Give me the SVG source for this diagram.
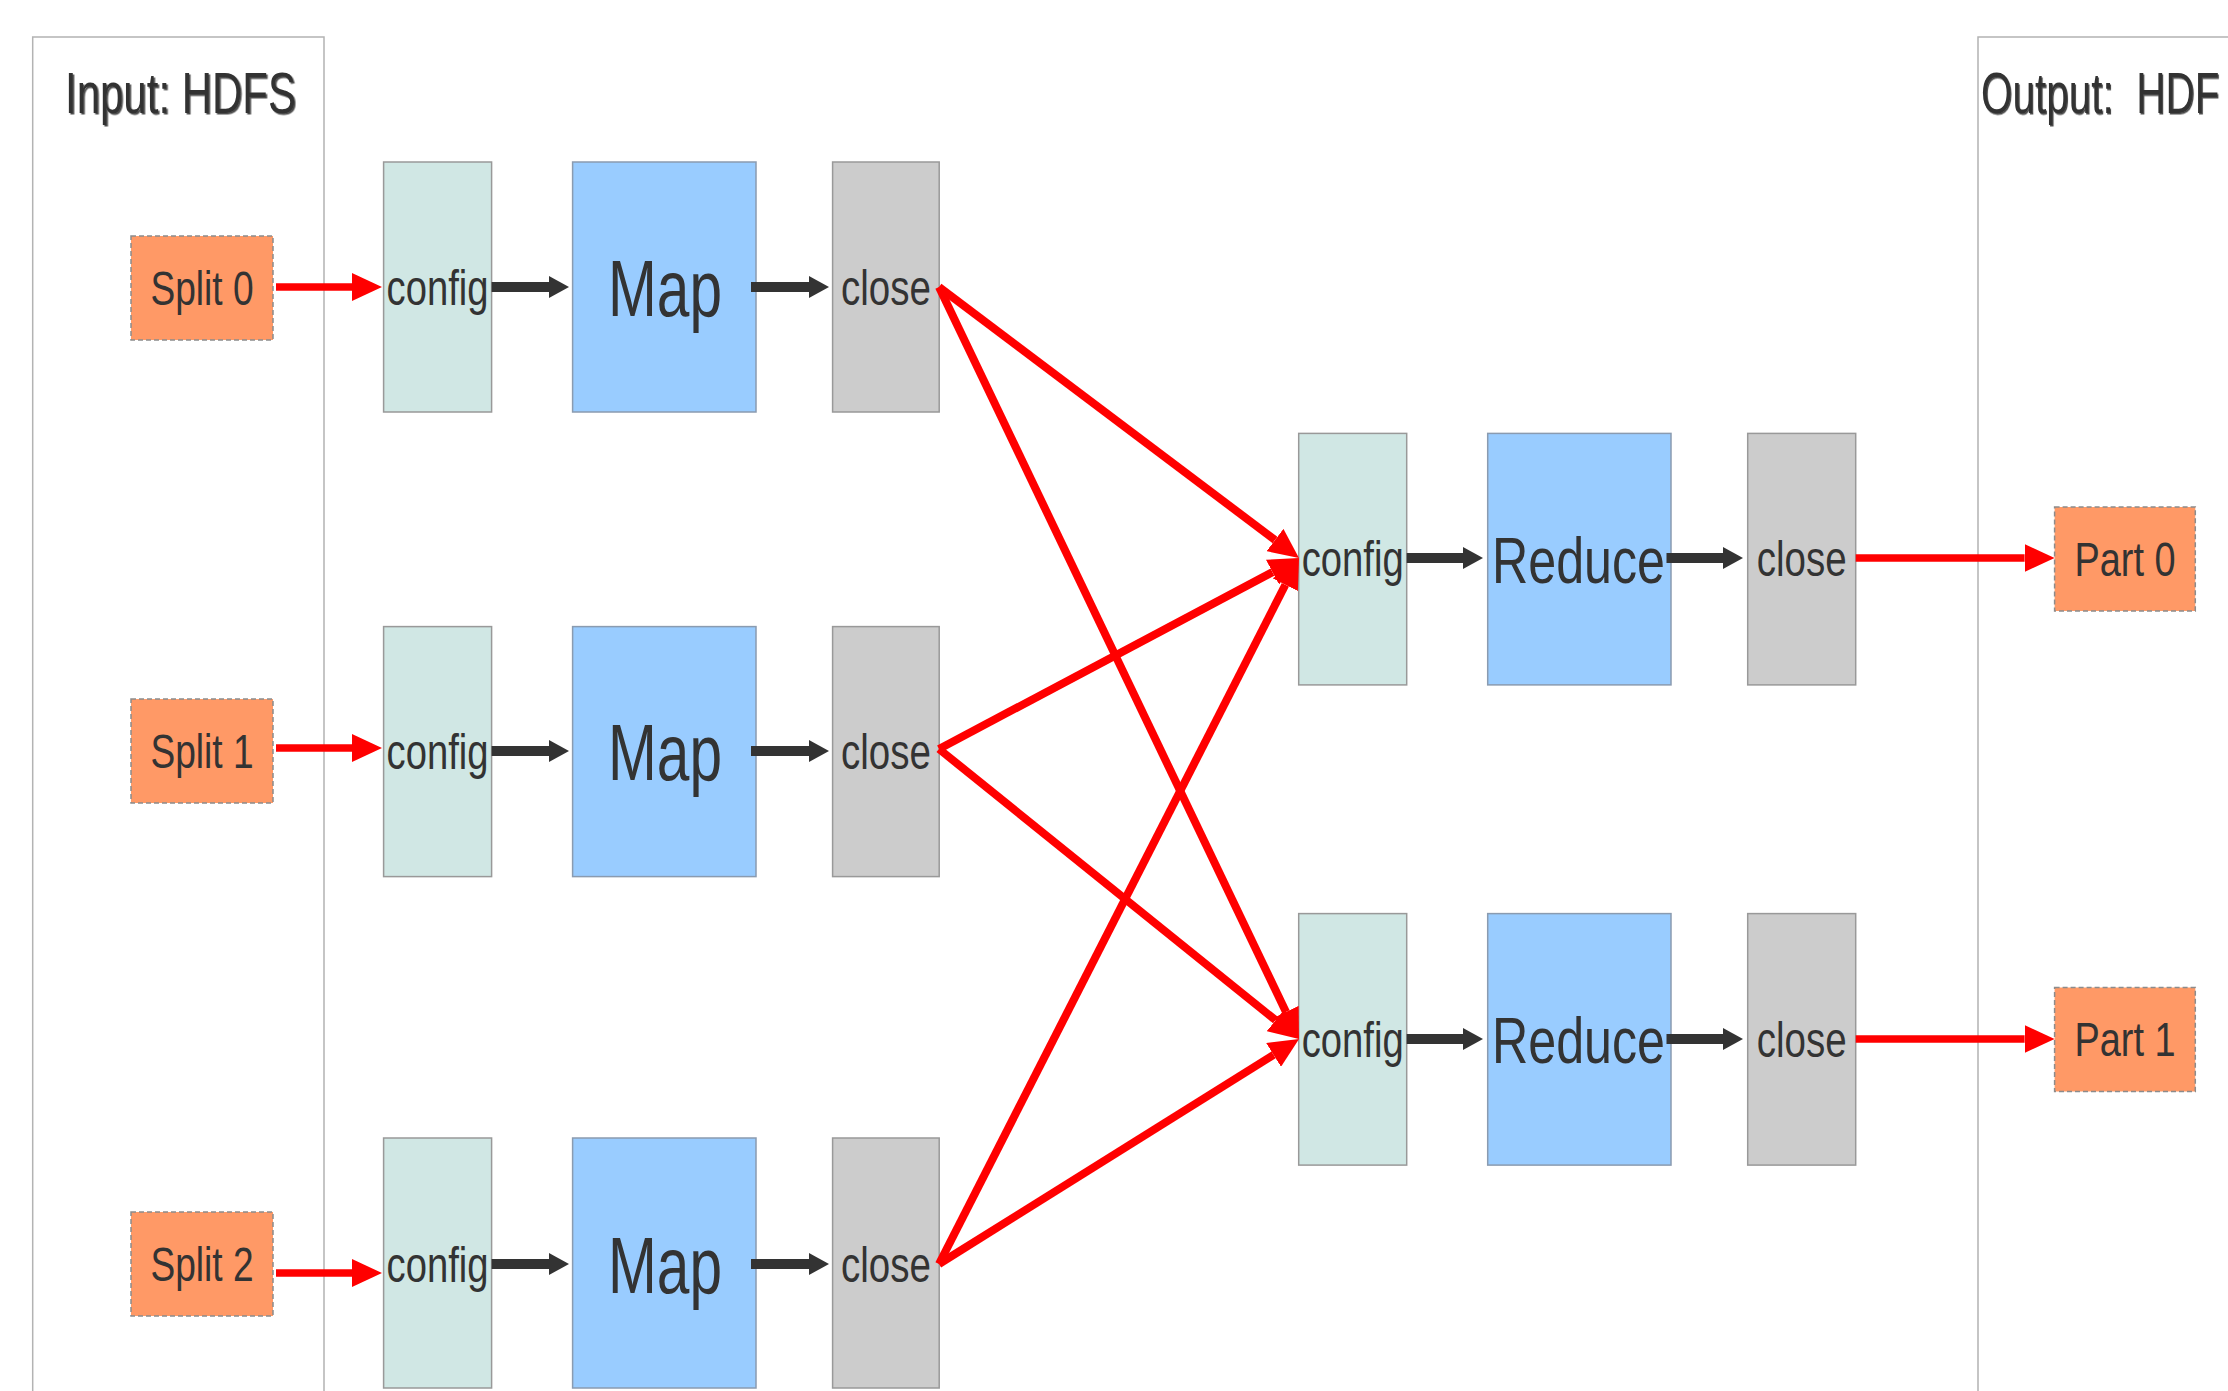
<svg xmlns="http://www.w3.org/2000/svg" width="2228" height="1391" viewBox="0 0 2228 1391">
  <style>
    .frame { fill: none; stroke: #b3b3b3; stroke-width: 1.5; }
    .split { fill: #ff9966; stroke: #8c8c8c; stroke-width: 1.5; stroke-dasharray: 5 3; }
    .cfg { fill: #d0e7e4; stroke: #999999; stroke-width: 1.5; }
    .task { fill: #99ccff; stroke: #8a9bb0; stroke-width: 1.5; }
    .cls { fill: #cccccc; stroke: #999999; stroke-width: 1.5; }
    text { font-family: "Liberation Sans", Arial, sans-serif; fill: #333333; }
    .title { font-size: 57px; }
    .lbl { font-size: 50px; text-anchor: middle; }
    .io { font-size: 48px; text-anchor: middle; }
    .big { font-size: 80px; text-anchor: middle; }
    .red { stroke: #ff0000; stroke-width: 7.5; fill: none; marker-end: url(#redHead); }
    .shuffle { stroke-width: 8; }
    .dark { stroke: #333333; stroke-width: 10; fill: none; marker-end: url(#darkHead); }
  </style>
  <defs>
    <marker id="redHead" viewBox="0 -14 30 28" refX="0" refY="0" markerWidth="30" markerHeight="28" markerUnits="userSpaceOnUse" orient="auto">
      <path d="M0,-14 L30,0 L0,14 z" fill="#ff0000"/>
    </marker>
    <marker id="darkHead" viewBox="0 -11 20 22" refX="0" refY="0" markerWidth="20" markerHeight="22" markerUnits="userSpaceOnUse" orient="auto">
      <path d="M0,-11 L20,0 L0,11 z" fill="#333333"/>
    </marker>
    <filter id="shadow" x="-2%" y="-10%" width="104%" height="125%">
      <feDropShadow dx="1.5" dy="1.5" stdDeviation="0.6" flood-color="#000000" flood-opacity="0.7"/>
    </filter>
  </defs>

  <rect width="2228" height="1391" fill="#ffffff"/>

  <!-- HDFS input / output frames -->
  <g id="input-hdfs">
    <path class="frame" d="M32.7,1391 V37 H324 V1391"/>
    <text class="title" x="65" y="113" textLength="231" lengthAdjust="spacingAndGlyphs" filter="url(#shadow)">Input: HDFS</text>
  </g>
  <g id="output-hdfs">
    <path class="frame" d="M1978,1391 V37 H2228"/>
    <text class="title" transform="translate(1981,113) scale(0.71,1)" x="0" y="0" xml:space="preserve" filter="url(#shadow)">Output:  HDF</text>
  </g>

  <!-- input splits -->
  <g id="split0"><rect class="split" x="131" y="236" width="142" height="104"/><text class="io" x="202" y="305" textLength="103" lengthAdjust="spacingAndGlyphs">Split 0</text></g>
  <g id="split1"><rect class="split" x="131" y="699" width="142" height="104"/><text class="io" x="202" y="768" textLength="103" lengthAdjust="spacingAndGlyphs">Split 1</text></g>
  <g id="split2"><rect class="split" x="131" y="1212" width="142" height="104"/><text class="io" x="202" y="1281" textLength="103" lengthAdjust="spacingAndGlyphs">Split 2</text></g>

  <!-- map tasks -->
  <g id="map0-config"><rect class="cfg" x="383.6" y="162" width="108" height="250"/><text class="lbl" x="437.6" y="305" textLength="102" lengthAdjust="spacingAndGlyphs">config</text></g>
  <g id="map0-map"><rect class="task" x="572.6" y="162" width="183.4" height="250"/><text class="big" x="665" y="316" textLength="114" lengthAdjust="spacingAndGlyphs">Map</text></g>
  <g id="map0-close"><rect class="cls" x="832.6" y="162" width="106.6" height="250"/><text class="lbl" x="886" y="305" textLength="90" lengthAdjust="spacingAndGlyphs">close</text></g>

  <g id="map1-config"><rect class="cfg" x="383.6" y="626.6" width="108" height="250"/><text class="lbl" x="437.6" y="769" textLength="102" lengthAdjust="spacingAndGlyphs">config</text></g>
  <g id="map1-map"><rect class="task" x="572.6" y="626.6" width="183.4" height="250"/><text class="big" x="665" y="780" textLength="114" lengthAdjust="spacingAndGlyphs">Map</text></g>
  <g id="map1-close"><rect class="cls" x="832.6" y="626.6" width="106.6" height="250"/><text class="lbl" x="886" y="769" textLength="90" lengthAdjust="spacingAndGlyphs">close</text></g>

  <g id="map2-config"><rect class="cfg" x="383.6" y="1138" width="108" height="250"/><text class="lbl" x="437.6" y="1282" textLength="102" lengthAdjust="spacingAndGlyphs">config</text></g>
  <g id="map2-map"><rect class="task" x="572.6" y="1138" width="183.4" height="250"/><text class="big" x="665" y="1293" textLength="114" lengthAdjust="spacingAndGlyphs">Map</text></g>
  <g id="map2-close"><rect class="cls" x="832.6" y="1138" width="106.6" height="250"/><text class="lbl" x="886" y="1282" textLength="90" lengthAdjust="spacingAndGlyphs">close</text></g>

  <!-- reduce tasks -->
  <g id="reduce0-config"><rect class="cfg" x="1298.7" y="433.4" width="108" height="251.5"/><text class="lbl" x="1352.7" y="576" textLength="102" lengthAdjust="spacingAndGlyphs">config</text></g>
  <g id="reduce0-reduce"><rect class="task" x="1487.7" y="433.4" width="183.3" height="251.5"/><text class="big" x="1578.5" y="583" style="font-size:65px" textLength="173" lengthAdjust="spacingAndGlyphs">Reduce</text></g>
  <g id="reduce0-close"><rect class="cls" x="1747.7" y="433.4" width="108" height="251.5"/><text class="lbl" x="1801.7" y="576" textLength="90" lengthAdjust="spacingAndGlyphs">close</text></g>

  <g id="reduce1-config"><rect class="cfg" x="1298.7" y="913.6" width="108" height="251.5"/><text class="lbl" x="1352.7" y="1057" textLength="102" lengthAdjust="spacingAndGlyphs">config</text></g>
  <g id="reduce1-reduce"><rect class="task" x="1487.7" y="913.6" width="183.3" height="251.5"/><text class="big" x="1578.5" y="1063" style="font-size:65px" textLength="173" lengthAdjust="spacingAndGlyphs">Reduce</text></g>
  <g id="reduce1-close"><rect class="cls" x="1747.7" y="913.6" width="108" height="251.5"/><text class="lbl" x="1801.7" y="1057" textLength="90" lengthAdjust="spacingAndGlyphs">close</text></g>

  <!-- output parts -->
  <g id="part0"><rect class="split" x="2054.6" y="507" width="140.7" height="104"/><text class="io" x="2125" y="576" textLength="101" lengthAdjust="spacingAndGlyphs">Part 0</text></g>
  <g id="part1"><rect class="split" x="2054.6" y="987.5" width="140.7" height="104"/><text class="io" x="2125" y="1056" textLength="101" lengthAdjust="spacingAndGlyphs">Part 1</text></g>

  <!-- connectors -->
  <g id="connectors">
    <!-- splits into map configs -->
    <line class="red" x1="276" y1="287" x2="352" y2="287"/>
    <line class="red" x1="276" y1="748" x2="352" y2="748"/>
    <line class="red" x1="276" y1="1273" x2="352" y2="1273"/>

    <!-- map pipeline steps -->
    <line class="dark" x1="491.6" y1="287" x2="549" y2="287"/>
    <line class="dark" x1="751" y1="287" x2="809" y2="287"/>
    <line class="dark" x1="491.6" y1="751" x2="549" y2="751"/>
    <line class="dark" x1="751" y1="751" x2="809" y2="751"/>
    <line class="dark" x1="491.6" y1="1264" x2="549" y2="1264"/>
    <line class="dark" x1="751" y1="1264" x2="809" y2="1264"/>

    <!-- shuffle: every map close feeds every reduce config -->
    <line class="red shuffle" x1="939" y1="287" x2="1275" y2="540"/>
    <line class="red shuffle" x1="939" y1="287" x2="1286" y2="1011.9"/>
    <line class="red shuffle" x1="939" y1="749" x2="1272.5" y2="572.1"/>
    <line class="red shuffle" x1="939" y1="749" x2="1275.6" y2="1020.2"/>
    <line class="red shuffle" x1="939" y1="1264" x2="1285.4" y2="584.7"/>
    <line class="red shuffle" x1="939" y1="1264" x2="1273.6" y2="1054.9"/>

    <!-- reduce pipeline steps -->
    <line class="dark" x1="1406.7" y1="558" x2="1463" y2="558"/>
    <line class="dark" x1="1666.5" y1="558" x2="1723" y2="558"/>
    <line class="dark" x1="1406.7" y1="1039" x2="1463" y2="1039"/>
    <line class="dark" x1="1666.5" y1="1039" x2="1723" y2="1039"/>

    <!-- reduce closes into output parts -->
    <line class="red" x1="1855.7" y1="558" x2="2024.6" y2="558"/>
    <line class="red" x1="1855.7" y1="1039" x2="2024.6" y2="1039"/>
  </g>
</svg>
